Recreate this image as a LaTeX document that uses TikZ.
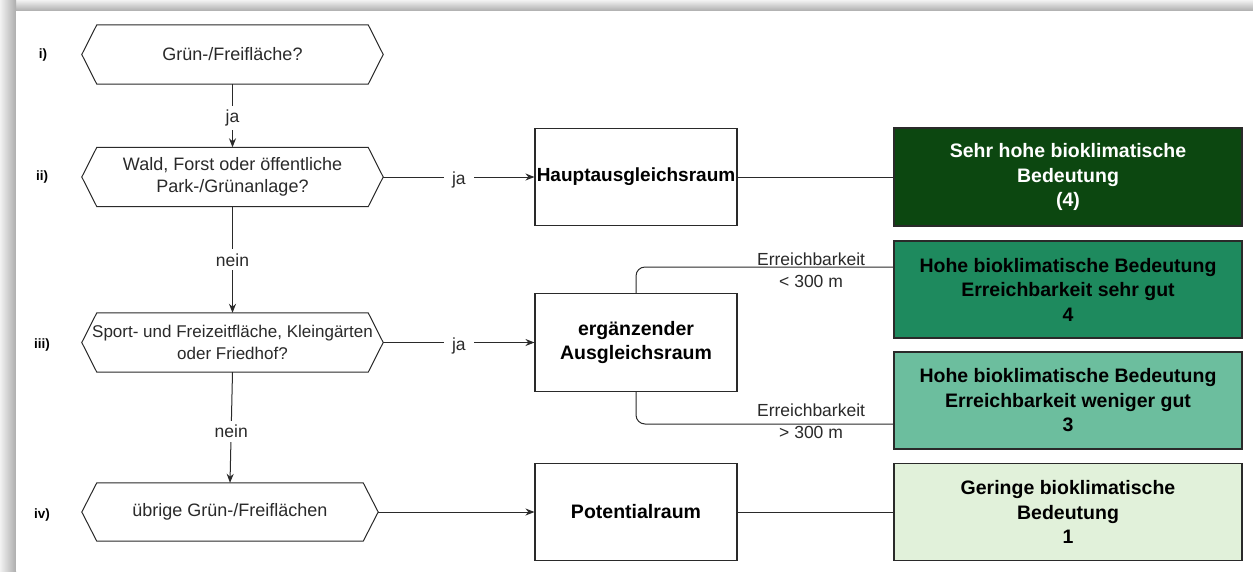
\documentclass[tikz,border=0pt]{standalone}
\usepackage{fontspec}
\setmainfont{Liberation Sans}
\usetikzlibrary{arrows.meta,calc}
\definecolor{c1}{HTML}{0C4710}
\definecolor{c2}{HTML}{1E8A5E}
\definecolor{c3}{HTML}{6CBE9E}
\definecolor{c4}{HTML}{E1F1DA}
\definecolor{ln}{HTML}{2A2A2A}
\begin{document}
\begin{tikzpicture}[x=1pt,y=-1pt,
  line/.style={draw=ln, line width=1pt},
  arr/.style={line, -{Stealth[length=9pt,width=7pt]}},
  hexnode/.style={minimum width=301pt, minimum height=59pt, inner sep=0pt, align=center, font=\fontsize{18}{22}\selectfont, text=ln},
  hexline/.style={draw=ln, line width=1pt},
  midbox/.style={draw=ln, line width=1.1pt, minimum width=202pt, minimum height=97pt, align=center, font=\fontsize{19.5}{23.5}\selectfont\bfseries, inner sep=0pt},
  resbox/.style={draw=ln, line width=1.1pt, minimum width=348pt, minimum height=97pt, align=center, font=\fontsize{19.5}{24.5}\selectfont\bfseries, inner sep=0pt},
  elabel/.style={fill=white, font=\fontsize{17.5}{21}\selectfont, inner sep=4pt, text=ln},
  plabel/.style={font=\fontsize{17.5}{22}\selectfont, inner sep=0pt, align=center, text=ln},
  roman/.style={font=\fontsize{13.5}{15}\selectfont\bfseries}
]
\useasboundingbox (0,0) rectangle (1253,571);
\shade[top color=gray!10, bottom color=gray!65] (0,0) rectangle (1253,11);
\shade[left color=gray!10, right color=gray!65] (0,0) rectangle (16,571);
\fill[white] (16,11) rectangle (1253,571);

% roman labels
\node[roman] (r1) at (43,55) {i)};
\node[roman] (r2) at (42,177) {ii)};
\node[roman] (r3) at (42,345) {iii)};
\node[roman] (r4) at (42,515) {iv)};

% hexagons
\node[hexnode] (h1) at (232.5,54.5) {Grün-/Freifläche?};
\node[hexnode] (h2) at (232.5,177) {Wald, Forst oder öffentliche\\Park-/Grünanlage?};
\node[hexnode, font=\fontsize{17}{21.5}\selectfont] (h3) at (232.5,342.5) {Sport- und Freizeitfläche, Kleingärten\\oder Friedhof?};
\node[hexnode, minimum width=296pt, minimum height=58pt] (h4) at (230,512) {übrige Grün-/Freiflächen};
\foreach \n in {h1,h2,h3,h4}
  \draw[hexline] ([xshift=15pt]\n.north west) -- ([xshift=-15pt]\n.north east) -- (\n.east)
    -- ([xshift=-15pt]\n.south east) -- ([xshift=15pt]\n.south west) -- (\n.west) -- cycle;

% middle boxes
\node[midbox, font=\fontsize{19}{23}\selectfont\bfseries] (m1) at (636,177) {Hauptausgleichsraum};
\node[midbox, minimum height=98pt] (m2) at (636,342.5) {ergänzender\\Ausgleichsraum};
\node[midbox] (m3) at (636,512) {Potentialraum};

% result boxes
\node[resbox, fill=c1, text=white, minimum height=98pt] (b1) at (1068,177) {Sehr hohe bioklimatische\\Bedeutung\\(4)};
\node[resbox, fill=c2, text=black] (b2) at (1068,289.5) {Hohe bioklimatische Bedeutung\\Erreichbarkeit sehr gut\\4};
\node[resbox, fill=c3, text=black] (b3) at (1068,400.5) {Hohe bioklimatische Bedeutung\\Erreichbarkeit weniger gut\\3};
\node[resbox, fill=c4, text=black] (b4) at (1068,512) {Geringe bioklimatische\\Bedeutung\\1};

% vertical flow
\draw[arr] (h1.south) -- node[elabel, yshift=-2pt]{ja} (h2.north);
\draw[arr] (h2.south) -- node[elabel]{nein} (h3.north);
\draw[arr] (h3.south) -- node[elabel, yshift=-4pt]{nein} (h4.north);

% horizontal flow
\draw[arr] (h2.east) -- node[elabel, yshift=-3pt, inner xsep=8pt]{ja} (m1.west);
\draw[arr] (h3.east) -- node[elabel, yshift=-3pt, inner xsep=8pt]{ja} (m2.west);
\draw[arr] (h4.east) -- (m3.west);

\draw[line] (m1.east) -- (b1.west);
\draw[line] (m3.east) -- (b4.west);
\draw[line, rounded corners=9pt] (m2.north) |- node[plabel, pos=0.84, yshift=-3pt]{Erreichbarkeit\\< 300 m} ([yshift=22.5pt]b2.west);
\draw[line, rounded corners=9pt] (m2.south) |- node[plabel, pos=0.84, yshift=2.5pt]{Erreichbarkeit\\> 300 m} ([yshift=-23.5pt]b3.west);
\end{tikzpicture}
\end{document}
